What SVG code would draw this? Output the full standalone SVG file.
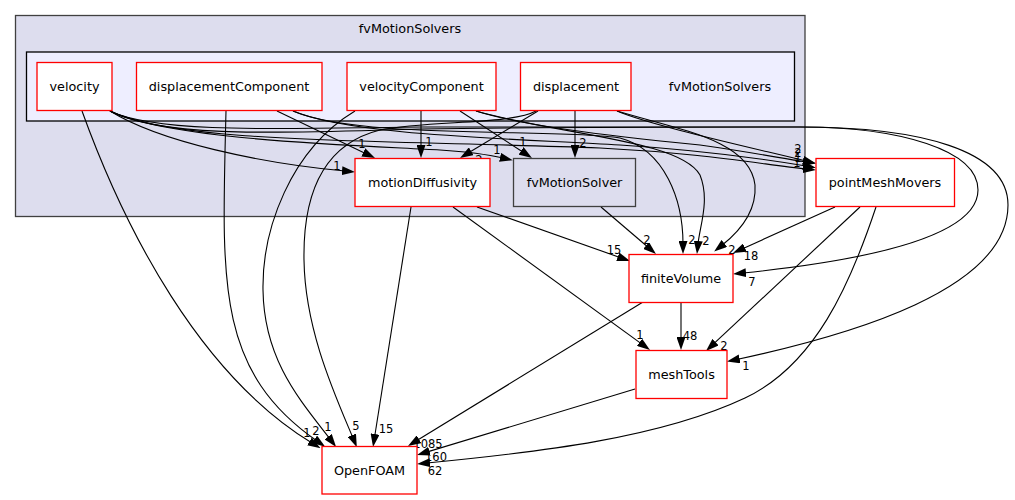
<svg xmlns="http://www.w3.org/2000/svg" width="1015" height="500" viewBox="0 0 1015 500">
<defs>
<marker id="ah" viewBox="0 0 13 9" refX="3" refY="4.5" markerWidth="13" markerHeight="9" markerUnits="userSpaceOnUse" orient="auto">
<path d="M0,0 L13,4.5 L0,9 z" fill="#000"/>
</marker>
<style>
.e{fill:none;stroke:#000;stroke-width:1.1;marker-end:url(#ah)}
.n{fill:#fff;stroke:#ff0000;stroke-width:1.3}
.t{font-family:"DejaVu Sans",sans-serif;font-size:12.8px;fill:#000;text-anchor:middle}
.l{font-family:"DejaVu Sans",sans-serif;font-size:11.5px;fill:#000;text-anchor:middle}
</style>
</defs>
<rect width="1015" height="500" fill="#fff"/>
<g id="cluster_outer">
<rect x="15.5" y="15.5" width="789.5" height="201" fill="#ddddee" stroke="#404040" stroke-width="1.3"/>
<text class="t" x="410" y="32.5">fvMotionSolvers</text>
</g>
<g id="cluster_inner">
<rect x="26.5" y="52" width="768" height="69" fill="#eeeeff" stroke="#000" stroke-width="1.3"/>
<text class="t" x="720" y="90.5">fvMotionSolvers</text>
</g>
<g id="edges">
<path class="e" d="M82,111 C125,230 200,375 312,443"/>
<path class="e" d="M226,111 C222,280 215,370 317,441"/>
<path class="e" d="M355,111 C290,150 262,230 263,290 C264,360 300,400 330,439"/>
<path class="e" d="M536,111 C510,125 430,120 380,130 C320,145 303,200 304,260 C305,330 335,395 353,438"/>
<path class="e" d="M411,207 L374.6,437"/>
<path class="e" d="M643,302 L416.5,440.8"/>
<path class="e" d="M635,389 L426.6,452.1"/>
<path class="e" d="M876,207 C850,285 815,365 745,398 C660,438 540,452 427,463"/>
<path class="e" d="M860,207 L713.3,344.2"/>
<path class="e" d="M835,207 L742.1,248.9"/>
<path class="e" d="M681,302 L681,340"/>
<path class="e" d="M453,207 L641.9,344.1"/>
<path class="e" d="M477,207 L620.6,257.7"/>
<path class="e" d="M601,207 L648.4,247.5"/>
<path class="e" d="M421,111 L421,148"/>
<path class="e" d="M460,111 L523.6,152.5"/>
<path class="e" d="M575,111 L575,148"/>
<path class="e" d="M538,111 L468.6,152.8"/>
<path class="e" d="M277,111 L366,153.7"/>
<path class="e" d="M110,111 C160,142 260,163 345,171"/>
<path class="e" d="M110,111 C170,140 350,145 440,150 C470,152 490,155 503,158"/>
<path class="e" d="M110,111 C180,145 400,140 600,148 C700,153 760,164 806,169"/>
<path class="e" d="M110,111 C160,135 300,128 420,127 L800,127 C900,127 978,150 978,190 C978,240 850,262 743,273"/>
<path class="e" d="M110,111 C165,140 300,132 420,129 C550,127 700,127 800,127 C920,127 1008,150 1008,205 C1008,290 850,335 736.7,359.5"/>
<path class="e" d="M293,111 C350,135 500,138 620,145 C700,150 770,160 806,166"/>
<path class="e" d="M293,111 C360,140 560,128 620,138 C665,150 683,200 683,244"/>
<path class="e" d="M476,111 C520,125 600,135 700,145 C750,152 780,158 806,162"/>
<path class="e" d="M476,111 C560,135 680,140 700,175 C710,200 700,225 698,244"/>
<path class="e" d="M617,111 C650,125 740,145 806,161"/>
<path class="e" d="M617,111 C680,130 750,140 755,185 C757,215 735,235 722,245.3"/>
</g>
<g id="edge_labels">
<text class="l" x="307" y="437">1</text>
<text class="l" x="316" y="435">2</text>
<text class="l" x="328" y="431">1</text>
<text class="l" x="356" y="430">5</text>
<text class="l" x="386" y="433">15</text>
<text class="l" x="428" y="448">1085</text>
<text class="l" x="436" y="461">160</text>
<text class="l" x="435" y="475">62</text>
<text class="l" x="640" y="339">1</text>
<text class="l" x="690" y="340">48</text>
<text class="l" x="724" y="350">2</text>
<text class="l" x="746" y="370">1</text>
<text class="l" x="752" y="286">7</text>
<text class="l" x="751" y="260">18</text>
<text class="l" x="614" y="254">15</text>
<text class="l" x="647" y="244">2</text>
<text class="l" x="692" y="244">2</text>
<text class="l" x="706" y="245">2</text>
<text class="l" x="732" y="254">2</text>
<text class="l" x="798" y="153">2</text>
<text class="l" x="798" y="157">2</text>
<text class="l" x="798" y="162">1</text>
<text class="l" x="797" y="167">1</text>
<text class="l" x="429" y="146">1</text>
<text class="l" x="523" y="146">1</text>
<text class="l" x="583" y="147">2</text>
<text class="l" x="479" y="164">2</text>
<text class="l" x="362" y="148">1</text>
<text class="l" x="337" y="170">1</text>
<text class="l" x="497" y="154">1</text>
</g>
<g id="node_velocity"><rect class="n" x="37" y="62.5" width="75" height="48"/><text class="t" x="74.5" y="91">velocity</text></g>
<g id="node_displacementComponent"><rect class="n" x="136.5" y="62.5" width="185.5" height="48"/><text class="t" x="229" y="91">displacementComponent</text></g>
<g id="node_velocityComponent"><rect class="n" x="347" y="62.5" width="149" height="48"/><text class="t" x="421.5" y="91">velocityComponent</text></g>
<g id="node_displacement"><rect class="n" x="520.5" y="62.5" width="110.5" height="48"/><text class="t" x="576" y="91">displacement</text></g>
<g id="node_motionDiffusivity"><rect class="n" x="355" y="158.5" width="135" height="48"/><text class="t" x="422.5" y="187">motionDiffusivity</text></g>
<g id="node_fvMotionSolver"><rect x="513.5" y="158.5" width="122" height="48" fill="#ddddee" stroke="#404040" stroke-width="1.3"/><text class="t" x="574.5" y="187">fvMotionSolver</text></g>
<g id="node_pointMeshMovers"><rect class="n" x="816" y="158.5" width="138.5" height="48"/><text class="t" x="885" y="187">pointMeshMovers</text></g>
<g id="node_finiteVolume"><rect class="n" x="629" y="254.5" width="104" height="48"/><text class="t" x="681" y="283">finiteVolume</text></g>
<g id="node_meshTools"><rect class="n" x="636" y="350.5" width="91" height="48"/><text class="t" x="681.5" y="379">meshTools</text></g>
<g id="node_OpenFOAM"><rect class="n" x="322" y="446.5" width="95" height="47.5"/><text class="t" x="369.5" y="475">OpenFOAM</text></g>
</svg>
